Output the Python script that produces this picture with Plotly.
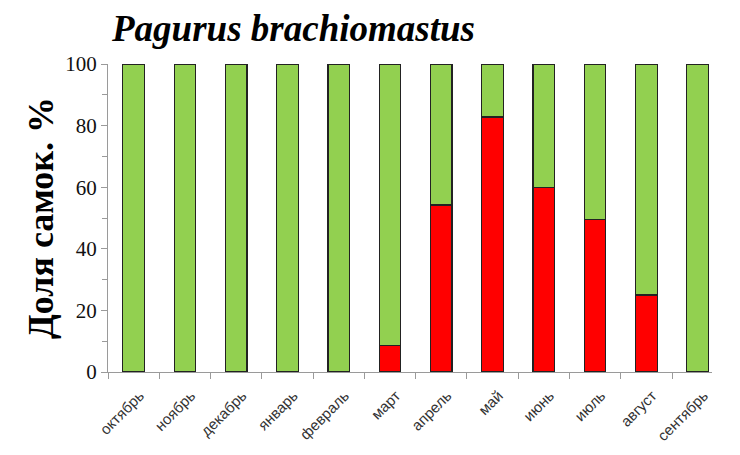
import plotly.graph_objects as go

months = ["октябрь", "ноябрь", "декабрь", "январь", "февраль", "март",
          "апрель", "май", "июнь", "июль", "август", "сентябрь"]
females = [0, 0, 0, 0, 0, 8.7, 54.2, 82.8, 60.0, 49.4, 25.0, 0]
males = [100, 100, 100, 100, 100, 91.3, 45.8, 17.2, 40.0, 50.6, 75.0, 100]

fig = go.Figure()
fig.add_trace(go.Bar(x=months, y=females, marker=dict(color="#FF0000", line=dict(color="#222222", width=1.2)),
                     width=0.42, showlegend=False))
fig.add_trace(go.Bar(x=months, y=males, marker=dict(color="#92D050", line=dict(color="#222222", width=1.2)),
                     width=0.42, showlegend=False))

fig.update_layout(
    barmode="stack",
    width=740, height=455,
    margin=dict(l=100, r=36, t=56, b=91, autoexpand=False),
    paper_bgcolor="white", plot_bgcolor="white",
    title=dict(text="<b><i>Pagurus brachiomastus</i></b>",
               font=dict(family="Liberation Serif", size=37, color="black"),
               x=104/740, xanchor="left", y=1 - 20/455, yanchor="middle"),
)
fig.update_xaxes(
    type="category", range=[-0.5, 11.28],
    showline=True, linecolor="#9a9a9a", linewidth=1.2,
    ticks="outside", tickson="boundaries", ticklen=6, tickcolor="#9a9a9a",
    tickangle=-45, tickfont=dict(family="Liberation Sans", size=15, color="#333333"),
    ticklabelstandoff=8, ticklabelshift=6,
    showgrid=False,
)
fig.update_yaxes(
    range=[0, 100], tickvals=[0, 20, 40, 60, 80, 100],
    showline=True, linecolor="#9a9a9a", linewidth=1.2,
    ticks="outside", ticklen=6, tickcolor="#9a9a9a",
    minor=dict(tickvals=[10, 30, 50, 70, 90], ticks="outside", ticklen=5, tickcolor="#9a9a9a"),
    tickfont=dict(family="Liberation Serif", size=21, color="#111111"),
    showgrid=False, zeroline=False,
    title=dict(text="<b>Доля самок. %</b>", font=dict(family="Liberation Serif", size=36, color="black"),
               standoff=0),
)

fig.write_html("out.html")
